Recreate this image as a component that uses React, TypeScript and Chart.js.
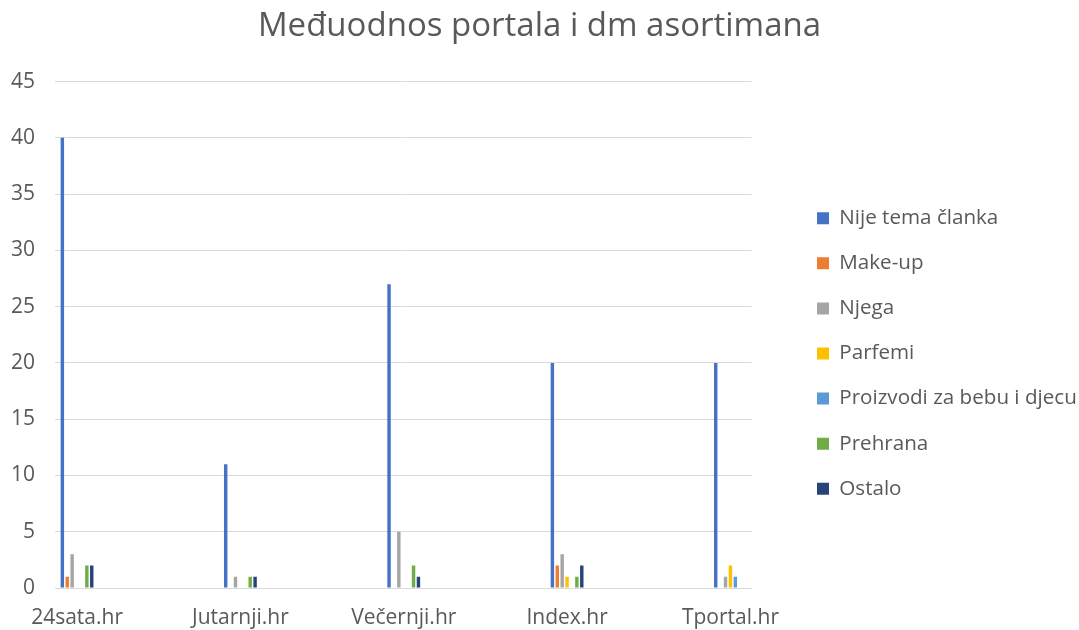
import React, { useEffect, useRef } from "react";
import { Chart, registerables } from "chart.js";

Chart.register(...registerables);

const TITLE = "Međuodnos portala i dm asortimana";
const categories = ["24sata.hr", "Jutarnji.hr", "Večernji.hr", "Index.hr", "Tportal.hr"];
const seriesNames = [
  "Nije tema članka",
  "Make-up",
  "Njega",
  "Parfemi",
  "Proizvodi za bebu i djecu",
  "Prehrana",
  "Ostalo",
];
const nijeTema = [40, 11, 27, 20, 20];
const makeUp = [1, 0, 0, 2, 0];
const njega = [3, 1, 5, 3, 1];
const parfemi = [0, 0, 0, 1, 2];
const proizvodi = [0, 0, 0, 0, 1];
const prehrana = [2, 1, 2, 1, 0];
const ostalo = [2, 1, 1, 2, 0];
const seriesValues = [nijeTema, makeUp, njega, parfemi, proizvodi, prehrana, ostalo];
const colors = ["#4472C4", "#ED7D31", "#A5A5A5", "#FFC000", "#5B9BD5", "#70AD47", "#264478"];
const yTicks = [0, 5, 10, 15, 20, 25, 30, 35, 40, 45];

const FONT = "'Open Sans', 'Noto Sans', sans-serif";
const TEXT = "#595959";

export default function App() {
  const ref = useRef<HTMLCanvasElement | null>(null);
  useEffect(() => {
    if (!ref.current) return;
    const chart = new Chart(ref.current, {
      type: "bar",
      data: {
        datasets: seriesNames.map((name, s) => ({
          label: name,
          data: seriesValues[s].map((v, i) => ({ x: i, y: v })),
          backgroundColor: colors[s],
          borderWidth: 0,
          categoryPercentage: 0.21,
          barPercentage: 0.7,
        })),
      },
      options: {
        animation: false,
        responsive: true,
        maintainAspectRatio: false,
        layout: { padding: { left: 0, right: 0, top: 0, bottom: -18 } },
        plugins: {
          title: {
            display: true,
            text: TITLE,
            color: TEXT,
            font: { family: FONT, size: 33, weight: "normal" },
            padding: { top: 7, bottom: 35 },
          },
          legend: {
            position: "right",
            align: "start",
            maxWidth: 286.5,
            title: { display: true, text: " ", font: { size: 12 }, padding: 84.5 },
            labels: {
              boxWidth: 12,
              boxHeight: 12,
              padding: 24.5,
              color: TEXT,
              font: { family: FONT, size: 20.6 },
            },
          },
          tooltip: { enabled: false },
        },
        scales: {
          x: {
            type: "linear",
            offset: false,
            min: -0.135,
            max: 4.129,
            grid: { display: false, drawTicks: false, offset: false },
            border: { display: false },
            afterBuildTicks: (scale: any) => {
              scale.ticks = categories.map((_, i) => ({ value: i }));
            },
            ticks: {
              autoSkip: false,
              maxRotation: 0,
              includeBounds: false,
              padding: 17.4,
              color: TEXT,
              font: { family: FONT, size: 21 },
              callback: (v: any) => categories[Math.round(Number(v))] ?? "",
            },
          },
          y: {
            min: 0,
            max: 45,
            afterBuildTicks: (scale: any) => {
              scale.ticks = yTicks.map((v) => ({ value: v }));
            },
            afterFit: (scale: any) => {
              scale.width = 55;
            },
            grid: { color: "#D9D9D9", lineWidth: 1, drawTicks: false },
            border: { display: false },
            ticks: {
              padding: 20,
              color: TEXT,
              font: { family: FONT, size: 21 },
            },
          },
          spacer: {
            type: "linear",
            position: "right",
            display: true,
            grid: { display: false, drawTicks: false },
            border: { display: false },
            ticks: { display: false },
            afterFit: (scale: any) => {
              scale.width = 41;
            },
          },
        },
      },
    } as any);
    return () => chart.destroy();
  }, []);
  return (
    <div style={{ position: "fixed", left: 0, top: 0, width: 1079, height: 630, background: "#fff" }}>
      <canvas ref={ref} />
    </div>
  );
}
